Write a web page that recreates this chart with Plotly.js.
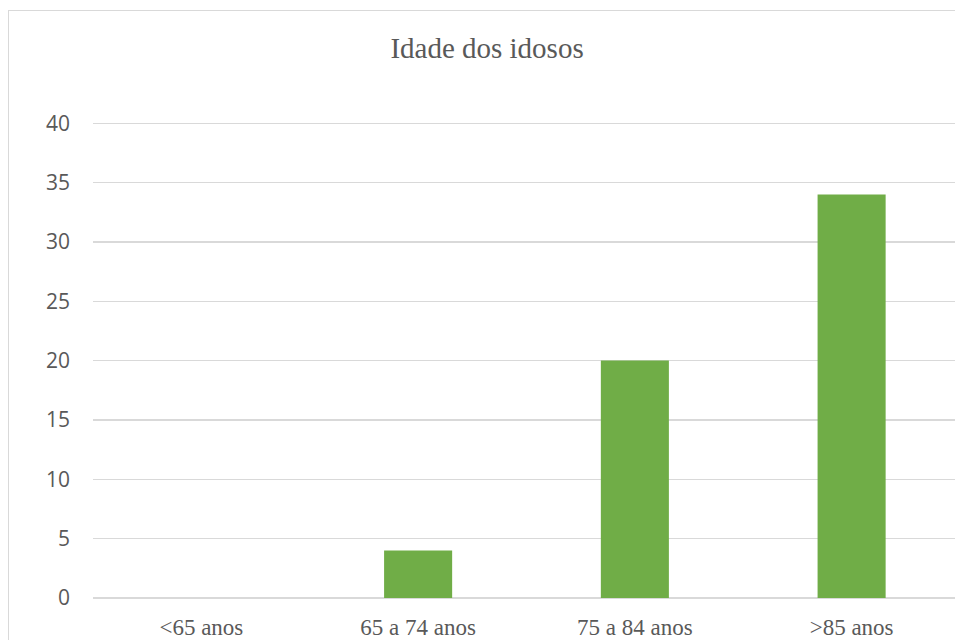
<!DOCTYPE html>
<html>
<head>
<meta charset="utf-8">
<script src="https://cdn.plot.ly/plotly-3.0.1.min.js"></script>
<style>
html,body{margin:0;padding:0;overflow:hidden;background:#fff;}
#wrap{position:relative;width:955px;height:640px;}
#chart{width:955px;height:640px;}
#frame{position:absolute;left:8px;top:10px;width:960px;height:650px;border:1.5px solid #d9d9d9;pointer-events:none;box-sizing:border-box;}
</style>
</head>
<body>
<div id="wrap">
<div id="chart"></div>
<div id="frame"></div>
</div>
<script>
const categories = ["<65 anos", "65 a 74 anos", "75 a 84 anos", ">85 anos"];
const counts = [0, 4, 20, 34];
const yTicks = [0, 5, 10, 15, 20, 25, 30, 35, 40];
const chartTitle = "Idade dos idosos";

const trace = {
  type: "bar",
  x: categories,
  y: counts,
  marker: {color: "#70AD47"},
  hoverinfo: "x+y"
};

const layout = {
  width: 955,
  height: 640,
  margin: {l: 93, r: 0, t: 122, b: 42, pad: 0},
  paper_bgcolor: "#ffffff",
  plot_bgcolor: "#ffffff",
  showlegend: false,
  bargap: 0.686,
  title: {
    text: chartTitle,
    font: {family: "Liberation Serif, Times New Roman, serif", size: 29, color: "#595959"},
    x: 0.51, xanchor: "center", xref: "container",
    y: 0.925, yanchor: "middle", yref: "container"
  },
  xaxis: {
    type: "category",
    range: [-0.5, 3.477],
    showgrid: false,
    showline: false,
    zeroline: false,
    ticks: "",
    ticklabelstandoff: 13,
    tickfont: {family: "Liberation Serif, Times New Roman, serif", size: 23, color: "#595959"},
    fixedrange: true
  },
  yaxis: {
    range: [0, 40.1],
    tickvals: yTicks,
    ticktext: yTicks.map(String),
    showgrid: true,
    gridcolor: "#d9d9d9",
    gridwidth: 1.3,
    zeroline: true,
    zerolinecolor: "#d9d9d9",
    zerolinewidth: 1.5,
    showline: false,
    ticks: "",
    ticklabelstandoff: 22,
    tickfont: {family: "Open Sans, Liberation Sans, sans-serif", size: 21, color: "#595959"},
    fixedrange: true
  }
};

Plotly.newPlot("chart", [trace], layout, {displayModeBar: false, staticPlot: true});
</script>
</body>
</html>
